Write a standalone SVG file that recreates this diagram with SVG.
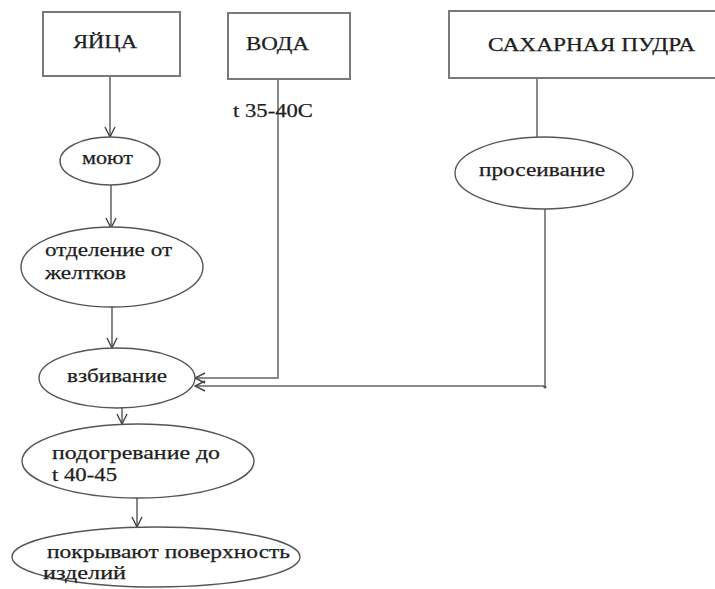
<svg xmlns="http://www.w3.org/2000/svg" width="715" height="589" viewBox="0 0 715 589">
<style>
  .box { fill: #ffffff; stroke: #7a7a7a; stroke-width: 2; }
  .ell { fill: #ffffff; stroke: #555555; stroke-width: 1.4; }
  .t { font-family: "Liberation Serif", "DejaVu Serif", serif; font-size: 19px; fill: #1e1e1e; stroke: #1e1e1e; stroke-width: 0.25; }
  .cap { font-family: "Liberation Serif", "DejaVu Serif", serif; font-size: 18px; fill: #1e1e1e; stroke: #1e1e1e; stroke-width: 0.25; }
  .con { fill: none; stroke: #8a8a8a; stroke-width: 2; }
  .conD { fill: none; stroke: #555555; stroke-width: 1.4; }
</style>
<defs>
  <marker id="arr" viewBox="0 0 12 12" refX="11" refY="6" markerWidth="12" markerHeight="12" markerUnits="userSpaceOnUse" orient="auto">
    <path d="M1,1 L11,6 L1,11" fill="none" stroke="#444444" stroke-width="1.4"/>
  </marker>
</defs>
<rect width="715" height="589" fill="#ffffff"/>

<g id="connectors">
  <line class="conD" x1="110" y1="76" x2="110" y2="137" marker-end="url(#arr)"/>
  <line class="conD" x1="111" y1="185" x2="111" y2="228" marker-end="url(#arr)"/>
  <line class="conD" x1="112" y1="307" x2="112" y2="348" marker-end="url(#arr)"/>
  <line class="conD" x1="122" y1="408" x2="122" y2="424" marker-end="url(#arr)"/>
  <line class="conD" x1="137" y1="498" x2="137" y2="527" marker-end="url(#arr)"/>
  <polyline class="con" points="278,79 278,378 195,378" marker-end="url(#arr)"/>
  <line class="con" x1="537" y1="78" x2="537" y2="137"/>
  <polyline class="con" points="545,209 545,386 195,386" marker-end="url(#arr)"/>
  <circle cx="545" cy="387" r="1.6" fill="#555555"/>
</g>

<g id="yaitsa">
  <rect class="box" x="43" y="12" width="137" height="64"/>
  <text class="cap" x="73" y="48" textLength="64" lengthAdjust="spacingAndGlyphs">ЯЙЦА</text>
</g>
<g id="voda">
  <rect class="box" x="228" y="13" width="122" height="66"/>
  <text class="cap" x="246" y="50" textLength="63" lengthAdjust="spacingAndGlyphs">ВОДА</text>
  <text class="t" x="233" y="117" textLength="80" lengthAdjust="spacingAndGlyphs">t 35-40C</text>
</g>
<g id="sakharnaya-pudra">
  <rect class="box" x="449" y="11" width="280" height="67"/>
  <text class="cap" x="488" y="51" textLength="207" lengthAdjust="spacingAndGlyphs">САХАРНАЯ ПУДРА</text>
</g>
<g id="moyut">
  <ellipse class="ell" cx="110" cy="161" rx="50" ry="24"/>
  <text class="t" x="82" y="164" textLength="51" lengthAdjust="spacingAndGlyphs">моют</text>
</g>
<g id="proseivanie">
  <ellipse class="ell" cx="544" cy="173" rx="89" ry="36"/>
  <text class="t" x="479" y="176" textLength="126" lengthAdjust="spacingAndGlyphs">просеивание</text>
</g>
<g id="otdelenie">
  <ellipse class="ell" cx="112" cy="267" rx="91" ry="40"/>
  <text class="t" x="45" y="256" textLength="127" lengthAdjust="spacingAndGlyphs">отделение от</text>
  <text class="t" x="45" y="279" textLength="81" lengthAdjust="spacingAndGlyphs">желтков</text>
</g>
<g id="vzbivanie">
  <ellipse class="ell" cx="117" cy="378" rx="78" ry="30"/>
  <text class="t" x="67" y="382" textLength="100" lengthAdjust="spacingAndGlyphs">взбивание</text>
</g>
<g id="podogrevanie">
  <ellipse class="ell" cx="138" cy="461" rx="116" ry="37"/>
  <text class="t" x="52" y="459" textLength="168" lengthAdjust="spacingAndGlyphs">подогревание до</text>
  <text class="t" x="52" y="481" textLength="65" lengthAdjust="spacingAndGlyphs">t 40-45</text>
</g>
<g id="pokryvayut">
  <ellipse class="ell" cx="156" cy="557" rx="144" ry="30"/>
  <text class="t" x="47" y="558" textLength="243" lengthAdjust="spacingAndGlyphs">покрывают поверхность</text>
  <text class="t" x="43" y="579" textLength="83" lengthAdjust="spacingAndGlyphs">изделий</text>
</g>
</svg>
